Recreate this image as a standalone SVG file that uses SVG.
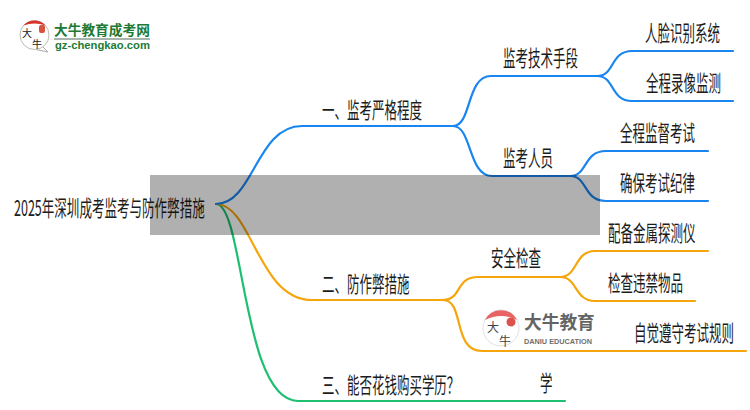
<svg xmlns="http://www.w3.org/2000/svg" width="750" height="410" viewBox="0 0 750 410">
<style>
.t{font-family:"Noto Sans CJK SC","Liberation Sans",sans-serif;font-size:22px;fill:#1c1c1c}
.l{fill:none;stroke-width:2.2;stroke-linecap:round}
.b{stroke:#1a85f0}.o{stroke:#f5a60d}.g{stroke:#1dbf70}
.k{font-family:"Noto Sans CJK SC",sans-serif;fill:#222}
</style>
<rect width="750" height="410" fill="#fff"/>
<g id="connectors">
<path class="l g" d="M216 204C244 204 242 401 298 401H565"/>
<path class="l o" d="M216 204C252 204 258 300 312 300H443"/>
<path class="l b" d="M216 204C254 204 256 126 302 126H453"/>
<path class="l b" d="M453 126C472 126 468 176 492 176H570"/>
<path class="l b" d="M453 126C472 126 466 76 491 76H597"/>
<path class="l b" d="M597 76C615 76 610 51 632 51H733"/>
<path class="l b" d="M597 76C615 76 610 101 632 101H733"/>
<path class="l b" d="M570 176C588 176 583 151 606 151H708"/>
<path class="l b" d="M570 176C588 176 583 201 606 201H708"/>
<path class="l o" d="M443 300C462 300 455 277 478 277H560"/>
<path class="l o" d="M443 300C465 300 452 351 482 351H746"/>
<path class="l o" d="M560 277C578 277 574 251 595 251H708"/>
<path class="l o" d="M560 277C578 277 574 301 595 301H695"/>
</g>
<g id="root"><text class="t" transform="translate(14 216) scale(.57 1)">2025年深圳成考监考与防作弊措施</text></g>
<g id="n1"><text class="t" transform="translate(322 118) scale(.568 1)">一、监考严格程度</text></g>
<g id="n2"><text class="t" transform="translate(322 292) scale(.568 1)">二、防作弊措施</text></g>
<g id="n3"><text class="t" transform="translate(322 393) scale(.568 1)">三、能否花钱购买学历？</text></g>
<g id="n11"><text class="t" transform="translate(503 66) scale(.568 1)">监考技术手段</text></g>
<g id="n12"><text class="t" transform="translate(503 166) scale(.568 1)">监考人员</text></g>
<g id="n111"><text class="t" transform="translate(645 41) scale(.568 1)">人脸识别系统</text></g>
<g id="n112"><text class="t" transform="translate(646 91) scale(.568 1)">全程录像监测</text></g>
<g id="n121"><text class="t" transform="translate(620 141) scale(.568 1)">全程监督考试</text></g>
<g id="n122"><text class="t" transform="translate(620 191) scale(.568 1)">确保考试纪律</text></g>
<g id="n21"><text class="t" transform="translate(491 266) scale(.568 1)">安全检查</text></g>
<g id="n211"><text class="t" transform="translate(608 241) scale(.568 1)">配备金属探测仪</text></g>
<g id="n212"><text class="t" transform="translate(608 291) scale(.568 1)">检查违禁物品</text></g>
<g id="n22"><text class="t" transform="translate(634 341) scale(.568 1)">自觉遵守考试规则</text></g>
<g id="n31"><text class="t" transform="translate(540 391) scale(.568 1)">学</text></g>
<rect x="150" y="175" width="450" height="60" fill="#000" fill-opacity=".31"/>
<g id="logo1">
<path d="M42 46L48 52L36 49.500Z" fill="#fff" stroke="#aaa"/>
<circle cx="34.500" cy="35" r="14.500" fill="#fff" stroke="#bbb"/>
<path d="M23.500 25.500A14.500 14.500 0 0 1 45.500 25.500Q34.500 21.500 23.500 25.500Z" fill="#d9322c"/>
<rect x="39" y="25" width="6" height="8" rx="2" fill="#d9523f"/>
<text class="k" x="22" y="37" font-size="10">大</text>
<text class="k" x="32" y="48" font-size="10">牛</text>
<text transform="translate(54 35)" font-family="'Noto Sans CJK SC',sans-serif" font-size="13.700" font-weight="700" fill="#1c7a34">大牛教育成考网</text>
<rect x="54" y="38" width="96" height="2" fill="#a8b5ac"/>
<text x="55" y="49" textLength="95" lengthAdjust="spacingAndGlyphs" font-family="'Liberation Sans',sans-serif" font-size="10.500" font-weight="700" fill="#1c7a34">gz-chengkao.com</text>
</g>
<g id="logo2" opacity=".85">
<circle cx="501" cy="328" r="18" fill="#fff" stroke="#ddd"/>
<path d="M485 320A18 18 0 0 1 517 320Q501 312 485 320Z" fill="#e5484a"/>
<circle cx="511" cy="322" r="4.500" fill="#d9322c"/>
<text class="k" x="487" y="332" font-size="12">大</text>
<text class="k" x="499" y="346" font-size="12">牛</text>
<text x="524" y="329" font-family="'Noto Sans CJK SC',sans-serif" font-size="17.700" font-weight="700" fill="#4a4a4a">大牛教育</text>
<text x="524" y="344" textLength="68" lengthAdjust="spacingAndGlyphs" font-family="'Liberation Sans',sans-serif" font-size="7" font-weight="700" fill="#555">DANIU EDUCATION</text>
</g>
</svg>
